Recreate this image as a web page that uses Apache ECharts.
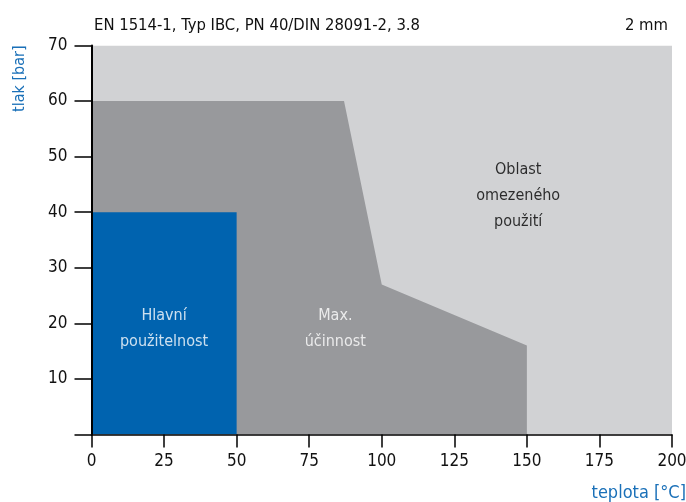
<!DOCTYPE html>
<html>
<head>
<meta charset="utf-8">
<script src="https://cdn.jsdelivr.net/npm/echarts@6/dist/echarts.min.js"></script>
<style>
  html, body { margin: 0; padding: 0; background: #fff; }
  #chart { width: 686px; height: 502px; }
</style>
</head>
<body>
<div id="chart"></div>
<script>
// oblasti (teplota [°C], tlak [bar])
const limitArea = [[0, 70], [200, 70]]
const maxArea = [[0, 60], [87, 60], [100, 27], [150, 16], [150, 0]]
const mainArea = [[0, 40], [50, 40], [50, 0]]

const areaLabels = [
  { value: [25, 19], text: 'Hlavní\npoužitelnost', color: '#ffffff' },
  { value: [84, 19], text: 'Max.\núčinnost', color: '#ffffff' },
  { value: [147, 43], text: 'Oblast\nomezeného\npoužití', color: '#000000' },
]

const xTicks = [0, 25, 50, 75, 100, 125, 150, 175, 200]
const yTicks = [10, 20, 30, 40, 50, 60, 70]

const font = '"Liberation Sans Narrow", "DejaVu Sans Condensed", sans-serif'
const blue = '#1a70b8'

const chart = echarts.init(document.getElementById('chart'))

const areaSeries = (data, color) => ({
  type: 'line',
  data: data,
  symbol: 'none',
  silent: true,
  lineStyle: { width: 0 },
  areaStyle: { color: color, opacity: 1 },
})

const option = {
  animation: false,
  textStyle: { fontFamily: font },
  title: [
    {
      text: 'EN 1514-1, Typ IBC, PN 40/DIN 28091-2, 3.8',
      left: 89,
      top: 12,
      textStyle: { fontSize: 16.5, fontWeight: 'normal', color: '#111', fontFamily: font },
    },
    {
      text: '2 mm',
      right: 13,
      top: 12,
      textStyle: { fontSize: 16.5, fontWeight: 'normal', color: '#111', fontFamily: font },
    },
  ],
  grid: {
    left: 91.5,
    right: 14,
    top: 45.5,
    bottom: 67.5,
    outerBoundsMode: 'none',
  },
  xAxis: {
    type: 'value',
    min: 0,
    max: 200,
    interval: 25,
    z: 10,
    name: 'teplota [°C]',
    nameLocation: 'end',
    nameGap: 0,
    nameTextStyle: {
      color: blue,
      fontSize: 18,
      align: 'right',
      verticalAlign: 'top',
      padding: [50, -14, 0, 0],
    },
    axisLine: { lineStyle: { color: '#000', width: 1.5 } },
    axisTick: { inside: false, length: 13, lineStyle: { color: '#000', width: 1.5 } },
    axisLabel: {
      color: '#111',
      fontSize: 17,
      margin: 19,
      formatter: (v) => (xTicks.includes(v) ? String(v) : ''),
    },
    splitLine: { show: false },
  },
  yAxis: {
    type: 'value',
    min: 0,
    max: 70,
    interval: 10,
    z: 10,
    name: 'tlak [bar]',
    nameLocation: 'end',
    nameRotate: 90,
    nameGap: 0,
    nameTextStyle: {
      color: blue,
      fontSize: 16,
      align: 'right',
      verticalAlign: 'bottom',
      padding: [0, 0, 64, 0],
    },
    axisLine: { show: true, lineStyle: { color: '#000', width: 2 } },
    axisTick: { show: true, length: 17, lineStyle: { color: '#000', width: 1.5 } },
    axisLabel: {
      color: '#111',
      fontSize: 17,
      margin: 24,
      formatter: (v) => (yTicks.includes(v) ? String(v) : ''),
    },
    splitLine: { show: false },
  },
  series: [
    areaSeries(limitArea, '#d1d2d4'),
    areaSeries(maxArea, '#98999c'),
    areaSeries(mainArea, '#0063af'),
    {
      type: 'scatter',
      symbolSize: 0,
      silent: true,
      z: 5,
      data: areaLabels.map((d) => ({
        value: d.value,
        label: {
          show: true,
          position: 'inside',
          formatter: d.text,
          color: d.color,
          fontSize: 16,
          lineHeight: 26,
          align: 'center',
          fontFamily: font,
        },
      })),
    },
  ],
}

chart.setOption(option)
</script>
</body>
</html>
